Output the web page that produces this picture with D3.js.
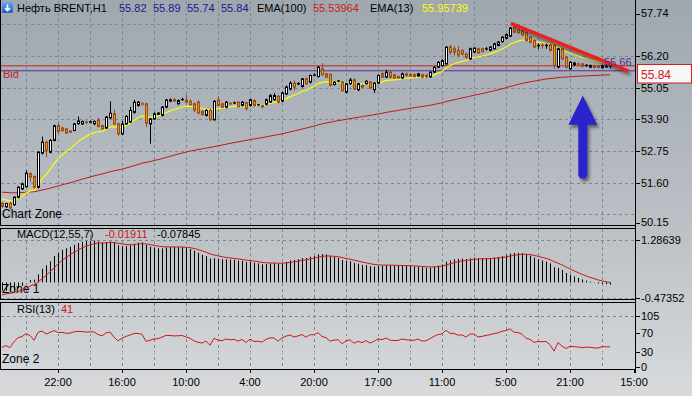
<!DOCTYPE html>
<html><head><meta charset="utf-8">
<script src="https://cdn.jsdelivr.net/npm/d3@7"></script>
<style>
html,body{margin:0;padding:0;background:#c4c8cc;}
svg{display:block;}
text{font-family:"Liberation Sans",Arial,sans-serif;font-size:11px;}
</style>
</head><body>
<svg id="chart" width="692" height="396"></svg>
<script>
// ---------------- DATA ----------------
const symbolTitle = "Нефть BRENT,H1";
const ohlcHeader = ["55.82", "55.89", "55.74", "55.84"];
const emaPeriods = [100, 13];
const emaHeaderValues = ["55.53964", "55.95739"];
const emaStartValues = [51.25, 50.99];          // EMA value at first visible bar
const macdParams = [12, 55, 7];
const macdHeaderValues = ["-0.01911", "-0.07845"];
const macdStartEmas = [50.95, 51.20];          // fast / slow EMA at first visible bar
const macdStartSignal = -0.38;
const rsiPeriod = 13;
const rsiHeaderValue = "41";
const rsiStartAvg = [0.05, 0.075];             // avg gain / avg loss at first bar
const bidPrice = 55.84;
const levelPrice = 55.66;

const opens = [
50.85,50.72,50.85,50.80,51.07,51.37,51.45,51.92,51.82,51.43,
52.67,53.07,52.70,53.13,53.67,53.58,53.55,53.47,53.49,53.74,
53.73,53.80,53.79,53.73,53.88,53.67,53.58,53.95,54.10,53.73,
53.37,53.73,53.80,54.15,54.40,54.46,54.46,53.73,53.91,54.08,
54.04,54.34,54.56,54.62,54.46,54.61,54.60,54.55,54.46,54.52,
54.18,54.04,54.22,53.88,54.60,54.46,54.34,54.47,54.49,54.52,
54.40,54.50,54.40,54.58,54.42,54.40,54.44,54.52,54.61,54.73,
54.56,54.82,55.00,55.21,55.18,55.09,55.37,55.25,55.50,55.45,
55.73,55.55,55.53,55.16,55.28,55.25,54.88,55.19,55.33,54.97,
55.13,55.19,55.25,54.97,55.21,55.55,55.43,55.61,55.51,55.45,
55.40,55.55,55.53,55.52,55.47,55.51,55.50,55.44,55.61,55.79,
55.85,55.91,56.52,56.46,56.40,56.40,56.27,56.09,56.34,56.46,
56.46,56.45,56.40,56.46,56.58,56.72,56.84,56.92,57.24,57.16,
57.12,57.06,56.88,56.76,56.57,56.59,56.58,56.60,56.58,55.79,
56.46,56.15,55.73,55.88,55.91,55.91,55.85,55.79,55.85,55.82,
55.77,55.80,55.82];
const highs = [
50.90,50.86,50.90,51.10,51.47,51.60,52.04,51.98,51.86,52.74,
53.27,53.12,53.18,53.70,53.76,53.63,53.58,53.50,53.76,54.00,
53.85,53.86,53.86,53.86,53.96,53.70,54.02,54.55,54.25,53.78,
53.85,54.05,54.35,54.60,54.56,54.52,54.50,53.95,54.15,54.16,
54.38,54.64,54.66,54.66,54.62,54.68,54.80,54.62,54.50,54.58,
54.22,54.26,54.28,54.60,54.73,54.50,54.56,54.52,54.54,54.55,
54.56,54.54,54.64,54.62,54.46,54.42,54.65,54.82,54.85,54.78,
54.90,55.12,55.28,55.31,55.24,55.40,55.42,55.52,55.56,55.83,
55.94,55.58,55.56,55.28,55.33,55.28,55.22,55.40,55.38,55.22,
55.16,55.31,55.28,55.24,55.52,55.60,55.70,55.70,55.55,55.48,
55.60,55.60,55.57,55.56,55.58,55.55,55.53,55.64,55.82,56.00,
56.08,56.55,56.60,56.56,56.56,56.44,56.30,56.50,56.52,56.50,
56.50,56.52,56.56,56.68,56.74,56.92,57.02,57.25,57.30,57.20,
57.16,57.10,56.92,56.80,56.65,56.66,56.65,56.64,56.62,56.50,
56.50,56.20,56.00,55.98,55.96,55.95,55.90,55.89,55.88,55.86,
55.89,55.90,55.89];
const lows = [
50.68,50.68,50.62,50.75,51.02,51.33,51.42,51.62,51.38,51.38,
52.62,52.52,52.66,53.10,53.37,53.45,53.37,53.40,53.46,53.70,
53.70,53.72,53.75,53.70,53.60,53.52,53.55,53.92,53.70,53.30,
53.33,53.70,53.77,54.10,54.36,54.40,53.61,53.01,53.88,54.05,
54.00,54.30,54.54,54.53,54.43,54.57,54.48,54.40,54.16,54.08,
54.03,54.00,53.84,53.85,54.38,54.30,54.30,54.42,54.45,54.33,
54.37,54.22,54.36,54.36,54.38,54.30,54.40,54.50,54.58,54.48,
54.52,54.78,54.95,54.94,55.14,55.05,55.15,55.20,55.46,55.42,
55.48,55.40,55.10,55.12,55.24,54.90,54.84,55.16,54.96,54.92,
55.04,55.16,55.00,54.85,55.18,55.40,55.40,55.38,55.36,55.37,
55.37,55.46,55.44,55.42,55.44,55.40,55.40,55.40,55.58,55.76,
55.82,55.88,56.24,56.21,56.15,56.22,56.10,56.05,56.30,56.28,
56.32,56.40,56.37,56.43,56.55,56.68,56.80,56.88,57.02,57.00,
56.93,56.72,56.66,56.48,56.45,56.46,56.46,56.36,55.73,55.75,
56.05,55.75,55.70,55.84,55.86,55.79,55.80,55.76,55.75,55.75,
55.74,55.76,55.74];
const closes = [
50.74,50.84,50.68,51.07,51.43,51.55,51.94,51.80,51.43,52.70,
53.07,52.76,53.13,53.67,53.46,53.49,53.40,53.43,53.73,53.84,
53.82,53.78,53.81,53.82,53.64,53.55,53.98,54.12,53.73,53.37,
53.73,54.00,54.22,54.52,54.52,54.45,53.76,53.91,54.10,54.12,
54.34,54.60,54.60,54.56,54.58,54.62,54.52,54.43,54.24,54.13,
54.07,54.22,53.88,54.55,54.40,54.34,54.52,54.46,54.50,54.36,
54.52,54.28,54.61,54.40,54.43,54.35,54.61,54.76,54.76,54.52,
54.86,55.07,55.21,55.07,55.20,55.37,55.19,55.49,55.51,55.79,
55.52,55.43,55.13,55.25,55.29,54.94,55.19,55.33,55.00,55.19,
55.07,55.28,55.04,55.21,55.49,55.43,55.61,55.43,55.40,55.40,
55.55,55.49,55.47,55.45,55.55,55.43,55.44,55.61,55.79,55.97,
56.03,56.52,56.34,56.34,56.24,56.27,56.15,56.46,56.48,56.31,
56.36,56.46,56.52,56.64,56.70,56.88,56.97,57.21,57.06,57.04,
56.97,56.76,56.70,56.52,56.58,56.57,56.58,56.40,55.85,56.46,
56.09,55.79,55.97,55.94,55.90,55.82,55.86,55.85,55.78,55.78,
55.85,55.85,55.84];

const priceLabels = [57.74, 56.20, 55.05, 53.90, 52.75, 51.60, 50.15];
const priceGrid = [57.35, 56.20, 55.05, 53.90, 52.75, 51.60, 50.45];
const macdLabels = [1.28639, -0.47352];
const rsiLabels = [105, 70, 30, 0];
const rsiLevels = [70, 30];
const timeLabels = ["22:00","16:00","10:00","4:00","20:00","17:00","11:00","5:00","21:00","15:00"];
const timeLabelBars = [14, 30, 46, 62, 78, 94, 110, 126, 142, 158];
const gridBars = d3.range(6, 159, 8);

// drawing objects (bar index, price)
const trendLineA = [[127.2, 57.38], [156.5, 55.66]];
const trendLineB = [[126.7, 55.66], [156.5, 55.66]];
const arrowBar = 145.2;
const arrowPrices = [54.76, 53.70, 51.90];   // tip, head base, tail

// ---------------- INDICATORS ----------------
function ema(src, period, start) {
  const a = 2 / (period + 1); let e = start;
  return src.map((v, i) => i === 0 ? e : (e = e + a * (v - e)));
}
const emaSlow = ema(closes, emaPeriods[0], emaStartValues[0]);
const emaFast = ema(closes, emaPeriods[1], emaStartValues[1]);
const m1 = ema(closes, macdParams[0], macdStartEmas[0]);
const m2 = ema(closes, macdParams[1], macdStartEmas[1]);
const macd = m1.map((v, i) => v - m2[i]);
const signal = ema(macd, macdParams[2], macdStartSignal);
const rsi = (() => {
  let g = rsiStartAvg[0], l = rsiStartAvg[1];
  return closes.map((c, i) => {
    if (i > 0) {
      const d = c - closes[i - 1];
      g = (g * (rsiPeriod - 1) + Math.max(d, 0)) / rsiPeriod;
      l = (l * (rsiPeriod - 1) + Math.max(-d, 0)) / rsiPeriod;
    }
    return 100 - 100 / (1 + g / l);
  });
})();

// ---------------- LAYOUT ----------------
const W = 692, H = 396, R = 635;
const panels = {main: [0, 225], macd: [228, 299], rsi: [302, 369]};
const x = d3.scaleLinear().domain([0, 152]).range([2, 610]);
const yP = d3.scaleLinear().domain([50.15, 57.74]).range([222.5, 13.5]);
const yM = d3.scaleLinear().domain([-0.47352, 1.28639]).range([298, 240]);
const yR = d3.scaleLinear().domain([0, 105]).range([366.7, 316]);

const svg = d3.select("#chart");
const defs = svg.append("defs");
const bg = defs.append("linearGradient").attr("id", "bg").attr("x1", 0).attr("y1", 0).attr("x2", 0).attr("y2", 1);
bg.append("stop").attr("offset", "0%").attr("stop-color", "#9fa7af");
bg.append("stop").attr("offset", "60%").attr("stop-color", "#bdc2c7");
bg.append("stop").attr("offset", "100%").attr("stop-color", "#d8dadc");
const ic = defs.append("linearGradient").attr("id", "ic").attr("x1", 0).attr("y1", 0).attr("x2", 0).attr("y2", 1);
ic.append("stop").attr("offset", "0%").attr("stop-color", "#6aa8f0");
ic.append("stop").attr("offset", "100%").attr("stop-color", "#1c5cc4");
const f = defs.append("filter").attr("id", "sh").attr("x", "-20%").attr("y", "-20%").attr("width", "150%").attr("height", "150%");
f.append("feDropShadow").attr("dx", 2).attr("dy", 3).attr("stdDeviation", 1.6)
  .attr("flood-color", "#202020").attr("flood-opacity", 0.55);
Object.entries(panels).forEach(([k, [t, b]]) => {
  defs.append("clipPath").attr("id", "clip-" + k).append("rect")
    .attr("x", 1).attr("y", t).attr("width", R - 1).attr("height", b - t);
});

svg.append("rect").attr("width", W).attr("height", H).attr("fill", "url(#bg)");

const gridColor = "#7b8898";
Object.values(panels).forEach(([t, b]) => {
  svg.append("g").selectAll("line").data(gridBars.filter(v => x(v) < R - 2)).join("line")
    .attr("x1", d => Math.round(x(d)) + 0.5).attr("x2", d => Math.round(x(d)) + 0.5)
    .attr("y1", t + 1).attr("y2", b)
    .attr("stroke", gridColor).attr("stroke-dasharray", "3,3").attr("stroke-width", 1);
});
svg.append("g").selectAll("line").data(priceGrid).join("line")
  .attr("x1", 1).attr("x2", R).attr("y1", d => Math.round(yP(d)) + 0.5).attr("y2", d => Math.round(yP(d)) + 0.5)
  .attr("stroke", gridColor).attr("stroke-dasharray", "3,3");
svg.append("g").selectAll("line").data(macdLabels).join("line")
  .attr("x1", 1).attr("x2", R).attr("y1", d => Math.round(yM(d)) + 0.5).attr("y2", d => Math.round(yM(d)) + 0.5)
  .attr("stroke", gridColor).attr("stroke-dasharray", "3,3");
svg.append("line").attr("x1", 1).attr("x2", R).attr("y1", Math.round(yR(105)) + 0.5).attr("y2", Math.round(yR(105)) + 0.5)
  .attr("stroke", gridColor).attr("stroke-dasharray", "3,3");
svg.append("g").selectAll("line").data(rsiLevels).join("line")
  .attr("x1", 1).attr("x2", R).attr("y1", d => Math.round(yR(d)) + 0.5).attr("y2", d => Math.round(yR(d)) + 0.5)
  .attr("stroke", "#d2d5d8").attr("stroke-width", 1);

// ---------------- MAIN PANEL ----------------
const main = svg.append("g").attr("clip-path", "url(#clip-main)");
main.append("line").attr("x1", 0).attr("x2", R).attr("y1", yP(bidPrice)).attr("y2", yP(bidPrice))
  .attr("stroke", "#c42222").attr("stroke-width", 1);
main.append("line").attr("x1", 0).attr("x2", R).attr("y1", yP(levelPrice)).attr("y2", yP(levelPrice))
  .attr("stroke", "#5a2c98").attr("stroke-width", 1);

const lineP = d3.line().x((d, i) => x(i)).y(d => yP(d));
main.append("path").attr("d", lineP(emaSlow)).attr("fill", "none").attr("stroke", "#c01c1c").attr("stroke-width", 1);
main.append("path").attr("d", lineP(emaFast)).attr("fill", "none").attr("stroke", "#ffff00").attr("stroke-width", 1.2);

const idx = d3.range(closes.length);
const cg = main.append("g");
cg.selectAll("line").data(idx).join("line")
  .attr("x1", i => Math.round(x(i)) + 0.5).attr("x2", i => Math.round(x(i)) + 0.5)
  .attr("y1", i => yP(highs[i])).attr("y2", i => yP(lows[i]))
  .attr("stroke", i => closes[i] >= opens[i] ? "#000" : "#9a4a12").attr("stroke-width", 1);
cg.selectAll("rect").data(idx).join("rect")
  .attr("x", i => Math.round(x(i)) - 0.5).attr("width", 2)
  .attr("y", i => yP(Math.max(opens[i], closes[i])))
  .attr("height", i => Math.max(0.1, Math.abs(yP(opens[i]) - yP(closes[i]))))
  .attr("fill", i => closes[i] >= opens[i] ? "#ffffff" : "#e59c08")
  .attr("stroke", i => closes[i] >= opens[i] ? "#000" : "#9a4a12").attr("stroke-width", 1);

const lineXY = d3.line().x(d => x(d[0])).y(d => yP(d[1]));
const draw = svg.append("g").attr("clip-path", "url(#clip-main)");
[trendLineA, trendLineB].forEach(t => {
  draw.append("path").attr("d", lineXY(t)).attr("stroke", "#e8201c").attr("stroke-width", 3.5)
    .attr("fill", "none").attr("filter", "url(#sh)");
});
const ax = x(arrowBar), step = x(1) - x(0);
const ag = draw.append("g").attr("filter", "url(#sh)");
ag.append("line").attr("x1", ax).attr("x2", ax).attr("y1", yP(arrowPrices[1]) - 2).attr("y2", yP(arrowPrices[2]))
  .attr("stroke", "#2a22cc").attr("stroke-width", 9).attr("stroke-linecap", "round");
ag.append("path").attr("d", d3.line()([
  [ax, yP(arrowPrices[0])], [ax + 3.6 * step, yP(arrowPrices[1])], [ax - 3.6 * step, yP(arrowPrices[1])]]) + "Z")
  .attr("fill", "#2a22cc");

// ---------------- MACD PANEL ----------------
const mg = svg.append("g").attr("clip-path", "url(#clip-macd)");
mg.append("text").attr("x", 2).attr("y", 293).attr("fill", "#000").style("font-size", "12px").text("Zone 1");
mg.selectAll("line").data(idx).join("line")
  .attr("x1", i => Math.round(x(i)) + 0.5).attr("x2", i => Math.round(x(i)) + 0.5)
  .attr("y1", yM(0)).attr("y2", i => yM(macd[i])).attr("stroke", "#000").attr("stroke-width", 1);
mg.append("path").attr("d", d3.line().x((d, i) => x(i)).y(d => yM(d))(signal))
  .attr("fill", "none").attr("stroke", "#cc1a1a").attr("stroke-width", 1);

// ---------------- RSI PANEL ----------------
const rg = svg.append("g").attr("clip-path", "url(#clip-rsi)");
rg.append("path").attr("d", d3.line().x((d, i) => x(i)).y(d => yR(d))(rsi))
  .attr("fill", "none").attr("stroke", "#cc1a1a").attr("stroke-width", 1);

// ---------------- FRAMES & AXES ----------------
Object.entries(panels).forEach(([k, [t, b]]) => {
  if (k === "main") {
    svg.append("path").attr("d", `M0.5,0 V${b + 0.5} H${R + 0.5}`).attr("fill", "none").attr("stroke", "#000");
  } else {
    svg.append("rect").attr("x", 0.5).attr("y", t + 0.5).attr("width", R).attr("height", b - t)
      .attr("fill", "none").attr("stroke", "#000").attr("stroke-width", 1);
  }
});
svg.append("line").attr("x1", R + 0.5).attr("x2", R + 0.5).attr("y1", 0).attr("y2", 373).attr("stroke", "#000");

function rightLabels(vals, scale, fmt) {
  const g = svg.append("g");
  g.selectAll("line").data(vals).join("line")
    .attr("x1", R).attr("x2", R + 5).attr("y1", d => Math.round(scale(d)) + 0.5).attr("y2", d => Math.round(scale(d)) + 0.5)
    .attr("stroke", "#000");
  g.selectAll("text").data(vals).join("text")
    .attr("x", R + 6).attr("y", d => scale(d)).attr("dy", "0.36em").attr("fill", "#000").text(fmt);
}
rightLabels(priceLabels, yP, d => d.toFixed(2));
rightLabels(macdLabels, yM, d => d.toFixed(5));
rightLabels(rsiLabels, yR, d => String(d));

const tg = svg.append("g");
tg.selectAll("line").data(timeLabelBars).join("line")
  .attr("x1", d => Math.round(x(d)) + 0.5).attr("x2", d => Math.round(x(d)) + 0.5)
  .attr("y1", 369).attr("y2", 373).attr("stroke", "#000");
tg.selectAll("text").data(timeLabelBars).join("text")
  .attr("x", d => x(d)).attr("y", 386).attr("text-anchor", "middle").attr("fill", "#000")
  .text((d, i) => timeLabels[i]);

// bid box (drawn just below the bid line as in the terminal)
const bidY = Math.round(yP(bidPrice));
svg.append("rect").attr("x", 637.5).attr("y", bidY - 1.5).attr("width", 54).attr("height", 18.5)
  .attr("fill", "#f6f6f6").attr("stroke", "#d02020");
svg.append("text").attr("x", 641).attr("y", bidY + 13).attr("fill", "#d02020")
  .style("font-size", "12px").text(bidPrice.toFixed(2));
svg.append("text").attr("x", 604).attr("y", yP(levelPrice) - 5).attr("fill", "#5a2c98")
  .text(levelPrice.toFixed(2));

svg.append("text").attr("x", 3).attr("y", 78).attr("fill", "#c42222").text("Bid");
svg.append("text").attr("x", 2).attr("y", 218).attr("fill", "#000").style("font-size", "12px").text("Chart Zone");
svg.append("text").attr("x", 2).attr("y", 363).attr("fill", "#000").style("font-size", "12px").text("Zone 2");

// header
svg.append("rect").attr("x", 2).attr("y", 2).attr("width", 11).attr("height", 11).attr("rx", 1.5).attr("fill", "url(#ic)");
svg.append("path").attr("d", "M7.5 4.5 V10.5 M5 8 L7.5 10.5 L10 8").attr("stroke", "#fff").attr("stroke-width", 1.6).attr("fill", "none");
const head = [
  [17, symbolTitle, "#000"],
  [119, ohlcHeader[0], "#1a1a90"], [153, ohlcHeader[1], "#1a1a90"],
  [187, ohlcHeader[2], "#1a1a90"], [221, ohlcHeader[3], "#1a1a90"],
  [257, `EMA(${emaPeriods[0]})`, "#000"], [313, emaHeaderValues[0], "#cc1a1a"],
  [370, `EMA(${emaPeriods[1]})`, "#000"], [422, emaHeaderValues[1], "#ffff00"]
];
svg.append("g").selectAll("text").data(head).join("text")
  .attr("x", d => d[0]).attr("y", 12).attr("fill", d => d[2]).text(d => d[1]);
svg.append("text").attr("x", 17).attr("y", 238).text(`MACD(${macdParams.join(",")})`);
svg.append("text").attr("x", 105).attr("y", 238).attr("fill", "#cc1a1a").text(macdHeaderValues[0]);
svg.append("text").attr("x", 157).attr("y", 238).attr("fill", "#000").text(macdHeaderValues[1]);
svg.append("text").attr("x", 17).attr("y", 313).text(`RSI(${rsiPeriod})`);
svg.append("text").attr("x", 61).attr("y", 313).attr("fill", "#cc1a1a").text(rsiHeaderValue);
</script>
</body></html>
